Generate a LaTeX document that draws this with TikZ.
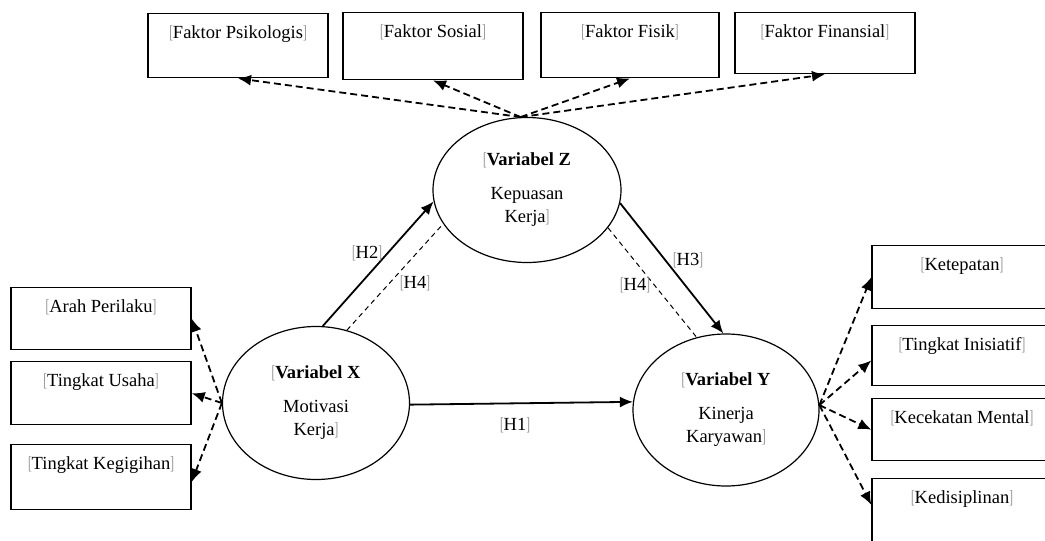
\documentclass[tikz,border=0pt]{standalone}
\usepackage{fontspec}
\setmainfont{Liberation Serif}
\usetikzlibrary{positioning,shapes.geometric,arrows.meta}
\definecolor{bmark}{gray}{0.55}
\newcommand{\bmkl}{\textcolor{bmark}{\scalebox{0.6}[1]{[}}}
\newcommand{\bmkr}{\textcolor{bmark}{\scalebox{0.6}[1]{]}}}
\tikzset{%
  indicator/.style={
    draw,
    line width=1.4pt,
    minimum width=180pt,
    inner xsep=0pt,
    inner ysep=9pt,
    text height=16pt,
    text depth=#1,
    anchor=north
  },
  indicator/.default=30pt,
  latent/.style={
    ellipse,
    draw,
    line width=1.2pt,
    inner sep=0pt,
    align=center
  },
}

\begin{document}
\begin{tikzpicture}[x=1pt,y=-1pt,>={Latex[length=13pt,width=11pt]},font=\fontsize{18.5}{23}\selectfont]
        \tikzstyle{link}=[line width=1.8pt,dash pattern=on 7pt off 4pt,->]
        \tikzstyle{hyp}=[line width=1.8pt,->]
        \tikzstyle{med}=[line width=1pt,dash pattern=on 5pt off 4pt]
        \path[use as bounding box,clip] (0,0) rectangle (1045,541);

        \node[latent,minimum width=188pt,minimum height=145pt] (Z) at (527,190) {\bmkl\textbf{Variabel Z}\\[11pt]Kepuasan\\Kerja\bmkr};
        \node[latent,minimum width=187pt,minimum height=153pt] (X) at (316,403) {\bmkl\textbf{Variabel X}\\[11pt]Motivasi\\Kerja\bmkr};
        \node[latent,minimum width=186pt,minimum height=152pt] (Y) at (726,410) {\bmkl\textbf{Variabel Y}\\[11pt]Kinerja\\Karyawan\bmkr};

        \node[indicator=30pt] (psi) at (238,13) {\bmkl Faktor Psikologis\bmkr};
        \node[indicator=33pt] (sos) at (433,12) {\bmkl Faktor Sosial\bmkr};
        \node[indicator=31pt,minimum width=178pt] (fis) at (630,12) {\bmkl Faktor Fisik\bmkr};
        \node[indicator=27pt] (fin) at (825,12) {\bmkl Faktor Finansial\bmkr};

        \node[indicator=28pt] (arah) at (101,287) {\bmkl Arah Perilaku\bmkr};
        \node[indicator=29pt] (usaha) at (101,361) {\bmkl Tingkat Usaha\bmkr};
        \node[indicator=31pt] (gigih) at (101,444) {\bmkl Tingkat Kegigihan\bmkr};

        \node[indicator=29pt] (tepat) at (962,245) {\bmkl Ketepatan\bmkr};
        \node[indicator=26pt] (inisiatif) at (962,325) {\bmkl Tingkat Inisiatif\bmkr};
        \node[indicator=28pt] (cekat) at (962,398) {\bmkl Kecekatan Mental\bmkr};
        \node[indicator=34pt] (disiplin) at (962,478) {\bmkl Kedisiplinan\bmkr};

        \coordinate (ztop) at (Z.95);
        \coordinate (xleft) at (X.180);
        \coordinate (yright) at (Y.3);

        \draw[link] (ztop) -- (psi.south);
        \draw[link] (ztop) -- (sos.south);
        \draw[link] (ztop) -- (fis.south);
        \draw[link] (ztop) -- (fin.south);

        \draw[link] (xleft) -- (arah.east);
        \draw[link] (xleft) -- (usaha.east);
        \draw[link] (xleft) -- (gigih.-3);

        \draw[link] (yright) -- (tepat.west);
        \draw[link] (yright) -- (inisiatif.183);
        \draw[link] (yright) -- (cekat.west);
        \draw[link] (yright) -- (disiplin.175);

        \draw[hyp] (X.85) -- (Z.187);
        \draw[med] (X.67) -- (Z.202);
        \draw[hyp] (Z.-8) -- (Y.92);
        \draw[med] (Z.-25) -- (Y.112);
        \draw[hyp] (X.-1) -- (Y.175);

        \node (h2) at (367,253) {\bmkl H2\bmkr};
        \node (h4a) at (415,283) {\bmkl H4\bmkr};
        \node (h3) at (688,260) {\bmkl H3\bmkr};
        \node (h4b) at (635,285) {\bmkl H4\bmkr};
        \node (h1) at (515,425) {\bmkl H1\bmkr};
    \end{tikzpicture}
\end{document}
